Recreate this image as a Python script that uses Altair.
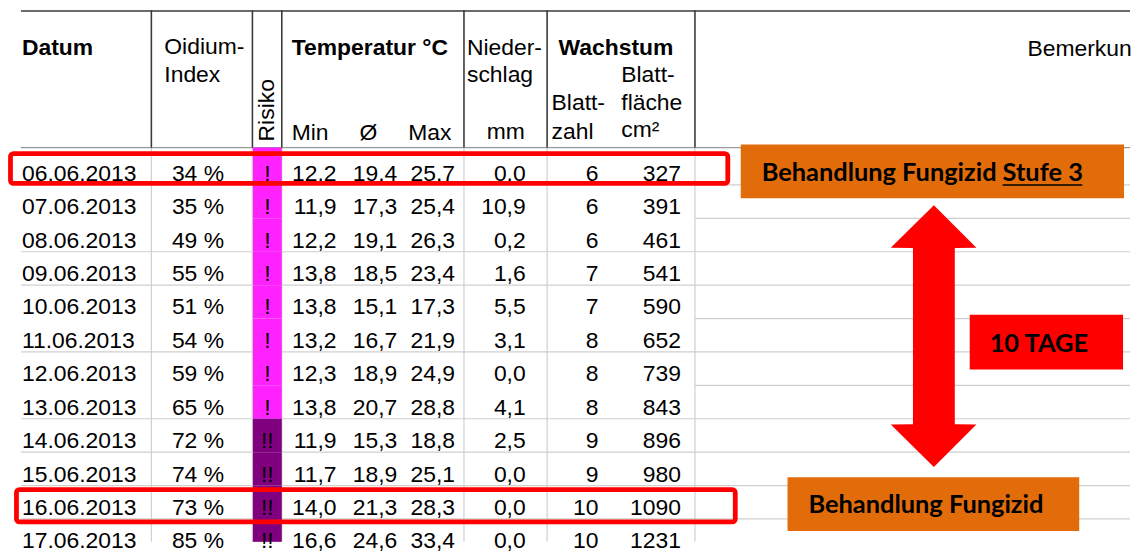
import altair as alt
import pandas as pd

# ---------------- data ----------------
dates = ["06.06.2013", "07.06.2013", "08.06.2013", "09.06.2013", "10.06.2013", "11.06.2013",
         "12.06.2013", "13.06.2013", "14.06.2013", "15.06.2013", "16.06.2013", "17.06.2013"]
oidium_index = [34, 35, 49, 55, 51, 54, 59, 65, 72, 74, 73, 85]
risk_level = [1, 1, 1, 1, 1, 1, 1, 1, 2, 2, 2, 2]
t_min = [12.2, 11.9, 12.2, 13.8, 13.8, 13.2, 12.3, 13.8, 11.9, 11.7, 14.0, 16.6]
t_avg = [19.4, 17.3, 19.1, 18.5, 15.1, 16.7, 18.9, 20.7, 15.3, 18.9, 21.3, 24.6]
t_max = [25.7, 25.4, 26.3, 23.4, 17.3, 21.9, 24.9, 28.8, 18.8, 25.1, 28.3, 33.4]
rain_mm = [0.0, 10.9, 0.2, 1.6, 5.5, 3.1, 0.0, 4.1, 2.5, 0.0, 0.0, 0.0]
leaf_count = [6, 6, 6, 7, 7, 8, 8, 8, 9, 9, 10, 10]
leaf_area = [327, 391, 461, 541, 590, 652, 739, 843, 896, 980, 1090, 1231]
risk_symbol = {1: "!", 2: "!!"}
risk_colors = ["#FF22FF", "#800080"]

# ---------------- layout (page pixels) ----------------
X0, X1 = 8, 1132
Y0, Y1 = 8, 542
W, H = X1 - X0, Y1 - Y0
XS = alt.Scale(domain=[X0, X1], nice=False, zero=False)
YS = alt.Scale(domain=[Y1, Y0], nice=False, zero=False)
FONT = "Liberation Sans"
NOTE_FONT = "Lato"
FS = 23

n = len(dates)
ROW_H = 33.55
row_tops = [146] + [183.5 + ROW_H * (i - 1) for i in range(1, n)]
row_bottoms = row_tops[1:] + [Y1]
baselines = [179.3 + 33.57 * i for i in range(n)]
col_lines = [149, 250.5, 280, 463, 546.5, 695]


def X(f="x"):
    return alt.X(f + ":Q", scale=XS, axis=None)


def Y(f="y"):
    return alt.Y(f + ":Q", scale=YS, axis=None)


def de(v):
    return f"{v:.1f}".replace(".", ",")


def rule_layer(rows, color, width):
    return alt.Chart(pd.DataFrame(rows)).mark_rule(color=color, strokeWidth=width).encode(
        x=X(), x2="x2:Q", y=Y(), y2="y2:Q")


def rect_layer(rows, **kw):
    return alt.Chart(pd.DataFrame(rows)).mark_rect(**kw).encode(
        x=X(), x2="x2:Q", y=Y(), y2="y2:Q")


# ---------------- grid lines ----------------
body_h = []
for k in [3, 4, 6, 8, 9, 10, 11]:
    body_h.append(dict(x=18, x2=695, y=row_tops[k], y2=row_tops[k]))
for k in range(1, n):
    body_h.append(dict(x=695, x2=X1, y=row_tops[k], y2=row_tops[k]))
for cx in col_lines:
    body_h.append(dict(x=cx, x2=cx, y=146, y2=Y1))
body_lines = rule_layer(body_h, "#cfcfcf", 1.2)
head_bottom = rule_layer([dict(x=18, x2=X1, y=146, y2=146)], "#9a9a9a", 1.3)
head_v = [dict(x=cx, x2=cx, y=8, y2=146) for cx in col_lines] + [dict(x=18, x2=X1, y=8.8, y2=8.8)]
head_lines = rule_layer(head_v, "#3a3a3a", 1.6)

# ---------------- risk cells ----------------
risk_df = pd.DataFrame(dict(x=[251] * n, x2=[280] * n, y=row_tops, y2=row_bottoms, level=risk_level))
risk_cells = alt.Chart(risk_df).mark_rect().encode(
    x=X(), x2="x2:Q", y=Y(), y2="y2:Q",
    color=alt.Color("level:O", scale=alt.Scale(domain=[1, 2], range=risk_colors), legend=None))

# ---------------- body text ----------------
left_rows, right_rows, center_rows = [], [], []
right_cols = [
    (222, [f"{v} %" for v in oidium_index]),
    (335, [de(v) for v in t_min]),
    (396, [de(v) for v in t_avg]),
    (454, [de(v) for v in t_max]),
    (525, [de(v) for v in rain_mm]),
    (598, [str(v) for v in leaf_count]),
    (681, [str(v) for v in leaf_area]),
]
for i in range(n):
    left_rows.append(dict(x=19, y=baselines[i], t=dates[i]))
    center_rows.append(dict(x=265.5, y=baselines[i], t=risk_symbol[risk_level[i]]))
    for cx, vals in right_cols:
        right_rows.append(dict(x=cx, y=baselines[i], t=vals[i]))


def text_layer(rows, align, weight="normal", font=FONT, size=FS, angle=0, color="black"):
    kw = dict(align=align, baseline="alphabetic", font=font, fontSize=size,
              fontWeight=weight, color=color)
    if angle:
        kw["angle"] = angle
    return alt.Chart(pd.DataFrame(rows)).mark_text(**kw).encode(x=X(), y=Y(), text="t:N")


body_left = text_layer(left_rows, "left")
body_right = text_layer(right_rows, "right")
body_center = text_layer(center_rows, "center")

# ---------------- header text ----------------
head_bold_left = text_layer([
    dict(x=19, y=53, t="Datum"),
    dict(x=290, y=53, t="Temperatur °C"),
    dict(x=558, y=53, t="Wachstum"),
], "left", weight="bold")
head_left = text_layer([
    dict(x=162, y=52, t="Oidium-"),
    dict(x=162, y=80, t="Index"),
    dict(x=290, y=138, t="Min"),
    dict(x=407, y=138, t="Max"),
    dict(x=466, y=53, t="Nieder-"),
    dict(x=466, y=80, t="schlag"),
    dict(x=621, y=80, t="Blatt-"),
    dict(x=551, y=108, t="Blatt-"),
    dict(x=621, y=108, t="fläche"),
    dict(x=551, y=137, t="zahl"),
    dict(x=621, y=135, t="cm²"),
    dict(x=1029, y=54, t="Bemerkun"),
], "left")
head_center = text_layer([
    dict(x=367, y=138, t="Ø"),
    dict(x=505, y=137, t="mm"),
], "center")
head_rot = text_layer([dict(x=272, y=108.5, t="Risiko")], "center", angle=270)

# ---------------- highlight boxes ----------------
highlights = rect_layer([
    dict(x=7.5, x2=728, y=152, y2=182),
    dict(x=13.5, x2=735.5, y=489.5, y2=522),
], fillOpacity=0, stroke="#FF0000", strokeWidth=4.8, cornerRadius=3)

# ---------------- notes ----------------
orange_boxes = rect_layer([
    dict(x=741, x2=1126, y=143, y2=197),
    dict(x=788, x2=1081, y=477, y2=531),
], color="#E36C0A")
red_box = rect_layer([dict(x=971, x2=1125, y=314, y2=369)], color="#FF0000")

arrow_y = [204, 246.7, 246.8, 424, 424.1, 466.7]
arrow_xl = [935, 891.7, 914, 914, 891.7, 935]
arrow_xr = [935, 977.7, 956, 956, 977.7, 935]
arrow = alt.Chart(pd.DataFrame(dict(y=arrow_y, xl=arrow_xl, xr=arrow_xr))).mark_area(
    orient="horizontal", color="#FF0000").encode(
    y=Y(), x=alt.X("xl:Q", scale=XS, axis=None, stack=None), x2="xr:Q")

note_text = text_layer([
    dict(x=762, y=180, t="Behandlung Fungizid"),
    dict(x=1004, y=180, t="Stufe 3"),
    dict(x=809, y=513, t="Behandlung Fungizid"),
    dict(x=991, y=351, t="10 TAGE"),
], "left", weight="bold", font=NOTE_FONT, size=25.5)
underline = rule_layer([dict(x=1004, x2=1084, y=183.5, y2=183.5)], "black", 1.6)

chart = alt.layer(
    body_lines, head_bottom, risk_cells, head_lines,
    body_left, body_right, body_center,
    head_bold_left, head_left, head_center, head_rot,
    highlights, orange_boxes, red_box, arrow, note_text, underline,
).properties(width=W, height=H, padding=0, background="white").configure_view(stroke=None)

chart.save("out.html", embed_options={"renderer": "svg", "actions": False})
